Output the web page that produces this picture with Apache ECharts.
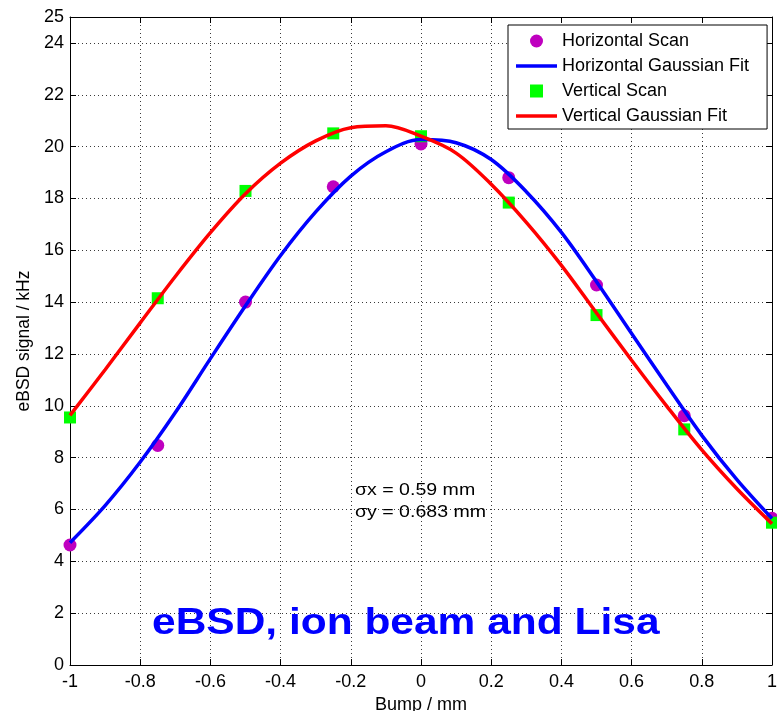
<!DOCTYPE html>
<html>
<head>
<meta charset="utf-8">
<script src="https://cdn.jsdelivr.net/npm/echarts@6/dist/echarts.min.js"></script>
<style>
  html, body { margin: 0; padding: 0; background: #fff; }
  #chart { width: 777px; height: 711px; }
</style>
</head>
<body>
<div id="chart"></div>
<script>
// Beam-position scan: measured points and Gaussian fit curves
const scanX = [-1, -0.75, -0.5, -0.25, 0, 0.25, 0.5, 0.75, 1];
const horizontalScan = [4.63, 8.47, 14.0, 18.45, 20.1, 18.8, 14.66, 9.62, 5.66];
const verticalScan = [9.55, 14.15, 18.29, 20.51, 20.4, 17.84, 13.5, 9.09, 5.49];

const fitX = [-1, -0.9, -0.8, -0.7, -0.6, -0.5, -0.4, -0.3, -0.2, -0.1, 0,
              0.1, 0.2, 0.3, 0.4, 0.5, 0.6, 0.7, 0.8, 0.9, 1];
const horizontalFit = [4.72, 6.15, 7.83, 9.74, 11.82, 13.86, 15.8, 17.48, 18.86, 19.8, 20.27,
                       20.15, 19.5, 18.26, 16.69, 14.79, 12.79, 10.8, 8.86, 7.15, 5.65];
const verticalFit = [9.63, 11.39, 13.2, 14.99, 16.68, 18.18, 19.36, 20.22, 20.73, 20.8, 20.4,
                     19.75, 18.55, 17.08, 15.42, 13.58, 11.76, 9.99, 8.3, 6.8, 5.45];

const names = ['Horizontal Scan', 'Horizontal Gaussian Fit', 'Vertical Scan', 'Vertical Gaussian Fit'];
const sigmaLabels = ['\u03c3x = 0.59 mm', '\u03c3y = 0.683 mm'];
const titleText = 'eBSD, ion beam and Lisa';

const FONT = '"Liberation Sans", Arial, Helvetica, sans-serif';
const pairs = (xs, ys) => xs.map((x, i) => [x, ys[i]]);

const gridLine = { show: true, lineStyle: { color: '#3a3a3a', width: 1, type: [1, 3] } };
const blackLine = { show: true, onZero: false, lineStyle: { color: '#000', width: 1 } };
const innerTick = { show: true, inside: true, length: 6, lineStyle: { color: '#000', width: 1 } };
const tickText = { color: '#000', fontSize: 18, fontFamily: FONT };

// legend glyphs: filled square for the vertical scan, short thick bar for the fits
const squareIcon = 'path://M0,0H10V10H0Z';
const lineIcon = 'path://M0,0H41V3.5H0Z';

const chart = echarts.init(document.getElementById('chart'), null, { renderer: 'canvas' });

chart.setOption({
  backgroundColor: '#fff',
  animation: false,
  grid: { left: 70, right: 5, top: 17, bottom: 46, containLabel: false, outerBoundsMode: 'none' },
  xAxis: [
    {
      type: 'value', min: -1, max: 1, interval: 0.2, position: 'bottom',
      axisLine: blackLine, axisTick: innerTick,
      axisLabel: Object.assign({ margin: 8 }, tickText),
      splitLine: gridLine,
      name: 'Bump / mm', nameLocation: 'middle', nameGap: 29,
      nameTextStyle: { color: '#000', fontSize: 18, fontFamily: FONT }
    },
    {
      type: 'value', min: -1, max: 1, interval: 0.2, position: 'top',
      axisLine: blackLine, axisTick: innerTick,
      axisLabel: { show: false }, splitLine: { show: false }
    }
  ],
  yAxis: [
    {
      type: 'value', min: 0, max: 25, interval: 2, position: 'left',
      axisLine: blackLine, axisTick: innerTick,
      axisLabel: Object.assign({ margin: 6 }, tickText),
      splitLine: gridLine,
      name: 'eBSD signal / kHz', nameLocation: 'middle', nameGap: 32, nameRotate: 90,
      nameTextStyle: { color: '#000', fontSize: 17.5, fontFamily: FONT }
    },
    {
      type: 'value', min: 0, max: 25, interval: 2, position: 'right',
      axisLine: blackLine, axisTick: innerTick,
      axisLabel: { show: false }, splitLine: { show: false }
    }
  ],
  legend: {
    orient: 'vertical', left: 508, top: 25,
    padding: [7, 18, 4, 8], itemGap: 7, itemWidth: 41, itemHeight: 13,
    backgroundColor: '#fff', borderColor: '#000', borderWidth: 1, borderRadius: 0,
    textStyle: { color: '#000', fontSize: 18, fontFamily: FONT },
    data: [
      { name: names[0], icon: 'circle' },
      { name: names[1], icon: lineIcon },
      { name: names[2], icon: squareIcon },
      { name: names[3], icon: lineIcon }
    ]
  },
  series: [
    {
      name: names[0], type: 'scatter', xAxisIndex: 0, yAxisIndex: 0,
      data: pairs(scanX, horizontalScan),
      symbol: 'circle', symbolSize: 13,
      itemStyle: { color: '#bf00bf', opacity: 1 }
    },
    {
      name: names[1], type: 'line', xAxisIndex: 0, yAxisIndex: 0,
      data: pairs(fitX, horizontalFit),
      smooth: 0.33, symbol: 'none',
      lineStyle: { color: '#0000ff', width: 3.5 },
      itemStyle: { color: '#0000ff' }
    },
    {
      name: names[2], type: 'scatter', xAxisIndex: 0, yAxisIndex: 0,
      data: pairs(scanX, verticalScan),
      symbol: 'rect', symbolSize: 12,
      itemStyle: { color: '#00ff00', opacity: 1 }
    },
    {
      name: names[3], type: 'line', xAxisIndex: 0, yAxisIndex: 0,
      data: pairs(fitX, verticalFit),
      smooth: 0.33, symbol: 'none',
      lineStyle: { color: '#ff0000', width: 3.5 },
      itemStyle: { color: '#ff0000' }
    }
  ],
  graphic: [
    {
      type: 'text', x: 355, y: 490, scaleX: 1.15, z: 50,
      style: { text: sigmaLabels[0], font: '17px ' + FONT, fill: '#000', textVerticalAlign: 'middle' }
    },
    {
      type: 'text', x: 355, y: 512, scaleX: 1.15, z: 50,
      style: { text: sigmaLabels[1], font: '17px ' + FONT, fill: '#000', textVerticalAlign: 'middle' }
    },
    {
      type: 'text', x: 152, y: 624, scaleX: 1.18, z: 50,
      style: { text: titleText, font: 'bold 36px ' + FONT, fill: '#0000ff', textVerticalAlign: 'middle' }
    }
  ]
});
</script>
</body>
</html>
